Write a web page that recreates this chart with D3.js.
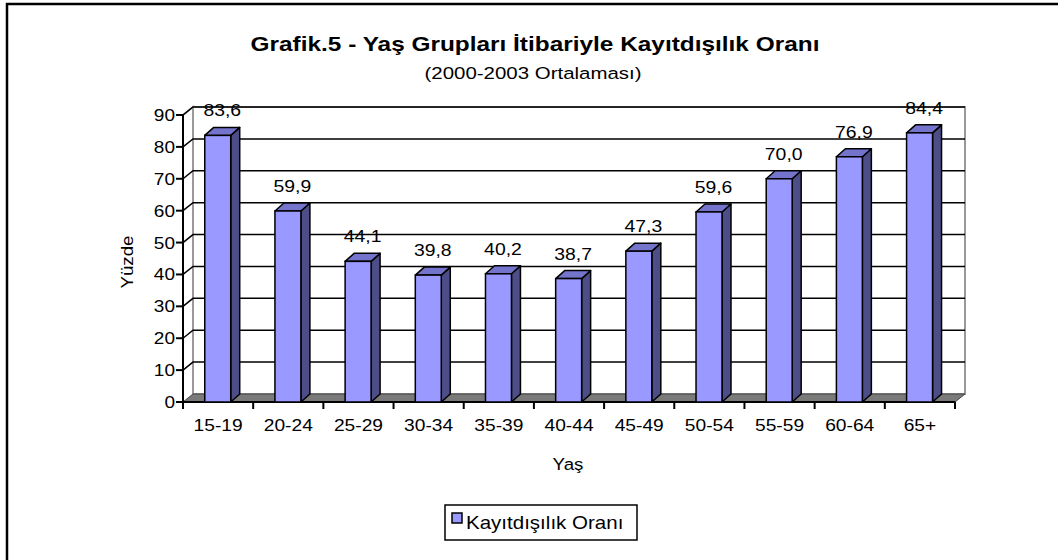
<!DOCTYPE html>
<html>
<head>
<meta charset="utf-8">
<script src="https://cdn.jsdelivr.net/npm/d3@7"></script>
<style>
  body { margin: 0; background: #fff; }
  text { font-family: Arial, "Liberation Sans", sans-serif; }
</style>
</head>
<body>
<svg width="1058" height="560"></svg>
<script>
// data
const ageGroups = ["15-19", "20-24", "25-29", "30-34", "35-39", "40-44", "45-49", "50-54", "55-59", "60-64", "65+"];
const informalRate = [83.6, 59.9, 44.1, 39.8, 40.2, 38.7, 47.3, 59.6, 70.0, 76.9, 84.4];
const yTicks = [0, 10, 20, 30, 40, 50, 60, 70, 80, 90];
const seriesName = "Kayıtdışılık Oranı";

let svg = d3.select("svg");

// outer frame
svg.append("rect")
    .attr("x", 7).attr("y", 4)
    .attr("width", 1200).attr("height", 700)
    .attr("fill", "none").attr("stroke", "#000").attr("stroke-width", 2.5);

// scales
let x = d3.scaleBand().domain(ageGroups).range([183, 955]);
let y = d3.scaleLinear().domain([0, 90]).range([402, 115]);

// depth of the 3D walls / bars
const wdx = 10, wdy = -8;
const bdx = 9, bdy = -8;

// stretched text helper (the source picture is wider than it is tall)
function label(g, txt, px, py, size, sx, opts) {
    opts = opts || {};
    return g.append("text")
        .attr("transform", `translate(${px},${py}) scale(${sx},1)`)
        .attr("text-anchor", opts.anchor || "middle")
        .style("font-size", size + "px")
        .style("font-weight", opts.bold ? "bold" : "normal")
        .attr("fill", "#000")
        .text(txt);
}

// --------------- //
// WALLS //
// --------------- //
let x0 = x.range()[0], x1 = x.range()[1];
let yBot = y(0), yTop = y(90);

// back wall
svg.append("rect")
    .attr("x", x0 + wdx).attr("y", yTop + wdy)
    .attr("width", x1 - x0).attr("height", yBot - yTop)
    .attr("fill", "#fff").attr("stroke", "#999").attr("stroke-width", 2);

// side wall outline
svg.append("path")
    .attr("d", `M${x0},${yBot} L${x0},${yTop} L${x0 + wdx},${yTop + wdy} L${x0 + wdx},${yBot + wdy}`)
    .attr("fill", "#fff").attr("stroke", "#999").attr("stroke-width", 2);

// gridlines (side wall + back wall)
svg.append("g")
    .selectAll("path")
    .data(yTicks.filter(d => d > 0))
    .enter()
    .append("path")
    .attr("d", d => `M${x0},${y(d)} L${x0 + wdx},${y(d) + wdy} L${x1 + wdx},${y(d) + wdy}`)
    .attr("fill", "none").attr("stroke", "#000").attr("stroke-width", 1.5);

// floor
svg.append("path")
    .attr("d", `M${x0},${yBot} L${x1},${yBot} L${x1 + wdx},${yBot + wdy} L${x0 + wdx},${yBot + wdy} Z`)
    .attr("fill", "#7a7a7a").attr("stroke", "#444").attr("stroke-width", 1);

// y axis
svg.append("line")
    .attr("x1", x0).attr("x2", x0).attr("y1", yBot).attr("y2", yTop)
    .attr("stroke", "#000").attr("stroke-width", 2);
let yAx = svg.append("g");
yTicks.forEach(t => {
    yAx.append("line")
        .attr("x1", x0 - 7).attr("x2", x0).attr("y1", y(t)).attr("y2", y(t))
        .attr("stroke", "#000").attr("stroke-width", 2);
    label(yAx, t, x0 - 8, y(t) + 6, 17, 1.12, { anchor: "end" });
});

// x axis
svg.append("line")
    .attr("x1", x0).attr("x2", x1).attr("y1", yBot).attr("y2", yBot)
    .attr("stroke", "#000").attr("stroke-width", 2);
let xAx = svg.append("g");
ageGroups.forEach((c, i) => {
    xAx.append("line")
        .attr("x1", x(c)).attr("x2", x(c)).attr("y1", yBot).attr("y2", yBot + 7)
        .attr("stroke", "#000").attr("stroke-width", 2);
    label(xAx, c, x(c) + x.bandwidth() / 2, 431, 17, 1.13);
});
xAx.append("line")
    .attr("x1", x1).attr("x2", x1).attr("y1", yBot).attr("y2", yBot + 7)
    .attr("stroke", "#000").attr("stroke-width", 2);

// --------------- //
// BARS //
// --------------- //
let bw = x.bandwidth() * 0.37;
let bOff = x.bandwidth() * 0.31;
let bars = svg.append("g");
ageGroups.forEach((c, i) => {
    let v = informalRate[i];
    let bx = x(c) + bOff, by = y(v), b0 = y(0);
    // side
    bars.append("path")
        .attr("d", `M${bx + bw},${b0} L${bx + bw},${by} L${bx + bw + bdx},${by + bdy} L${bx + bw + bdx},${b0 + bdy} Z`)
        .attr("fill", "#4d4d88").attr("stroke", "#000").attr("stroke-width", 1.5).attr("stroke-linejoin", "round");
    // top
    bars.append("path")
        .attr("d", `M${bx},${by} L${bx + bw},${by} L${bx + bw + bdx},${by + bdy} L${bx + bdx},${by + bdy} Z`)
        .attr("fill", "#7474cc").attr("stroke", "#000").attr("stroke-width", 1.5).attr("stroke-linejoin", "round");
    // front
    bars.append("rect")
        .attr("x", bx).attr("y", by).attr("width", bw).attr("height", b0 - by)
        .attr("fill", "#9999ff").attr("stroke", "#000").attr("stroke-width", 1.5);
    // value label
    label(bars, d3.format(".1f")(v).replace(".", ","), bx + bw / 2 + bdx / 2, by - 19, 17, 1.14);
});

// --------------- //
// TITLES //
// --------------- //
label(svg, "Grafik.5 - Yaş Grupları İtibariyle Kayıtdışılık Oranı", 535, 51, 20, 1.22, { bold: true });
label(svg, "(2000-2003 Ortalaması)", 533, 79, 16.5, 1.24);
label(svg, "Yaş", 568, 470, 17, 1.1);
svg.append("text")
    .attr("transform", "translate(133,262) rotate(-90) scale(1.1,1)")
    .attr("text-anchor", "middle")
    .style("font-size", "17px")
    .text("Yüzde");

// --------------- //
// LEGEND //
// --------------- //
let leg = svg.append("g");
leg.append("rect")
    .attr("x", 445).attr("y", 505).attr("width", 192).attr("height", 35)
    .attr("fill", "#fff").attr("stroke", "#000").attr("stroke-width", 1.5);
leg.append("rect")
    .attr("x", 452).attr("y", 513).attr("width", 10).attr("height", 10)
    .attr("fill", "#9999ff").attr("stroke", "#000").attr("stroke-width", 1.5);
label(leg, seriesName, 466, 529, 18, 1.14, { anchor: "start" });
</script>
</body>
</html>
